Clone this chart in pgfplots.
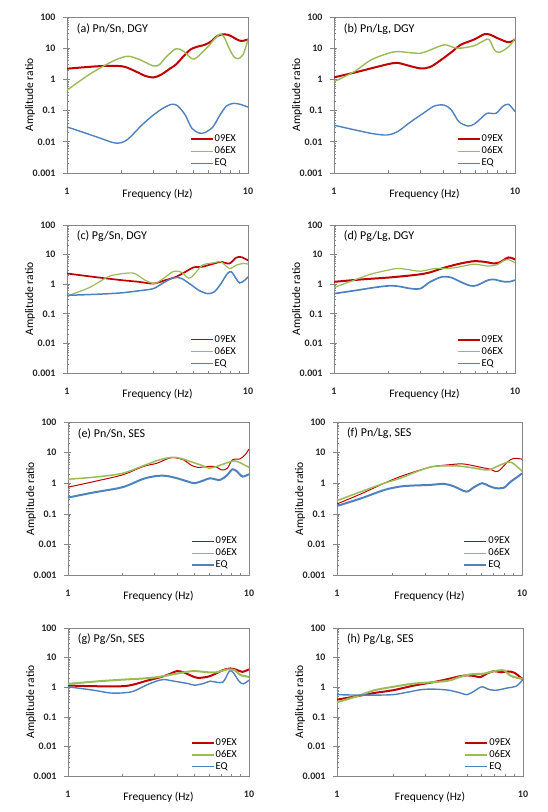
\documentclass[border=0pt]{standalone}
\usepackage{fontspec}
\setmainfont{Carlito}
\usepackage{pgfplots}
\pgfplotsset{compat=1.18}
\definecolor{c09}{RGB}{192,0,0}
\definecolor{c06}{RGB}{155,187,89}
\definecolor{ceq}{RGB}{79,129,189}
\definecolor{axgray}{RGB}{134,134,134}
\pgfplotsset{
  /pgf/number format/assume math mode=true,
  legend image code/.code={\draw[#1] (0pt,0pt) -- (22pt,0pt);},
  xmin=1, xmax=10, ymin=0.001, ymax=100,
  scale only axis, clip mode=individual,
  xtick={1,10}, xticklabels={1,10},
  ytick={0.001,0.01,0.1,1,10,100}, yticklabels={0.001,0.01,0.1,1,10,100},
  xtick pos=bottom, ytick pos=left,
  tick align=inside, major tick length=3pt, minor tick length=2.5pt,
  extra y ticks={0.001,0.01,0.1,1,10,100}, extra y tick labels={},
  extra y tick style={tick align=outside, major tick length=4pt},
  axis line style={axgray}, tick style={axgray, line width=0.6pt},
  ticklabel style={font=\fontsize{10}{12}\selectfont\bfseries, text=black!85},
  xticklabel style={yshift=-11pt},
  yticklabel style={xshift=-8pt},
  xlabel={Frequency (Hz)}, ylabel={Amplitude ratio},
  every axis x label/.style={at={(axis description cs:0.5,0)}, anchor=center, yshift=-21pt, font=\fontsize{11.5}{13}\selectfont},
  every axis y label/.style={at={(axis description cs:0,0.5)}, xshift=-37pt, anchor=center, rotate=90, font=\fontsize{11.5}{13}\selectfont},
  legend style={at={(axis description cs:0.94,0.025)}, anchor=south east, draw=none, fill=none,
     font=\fontsize{10.5}{12}\selectfont, inner sep=0pt, row sep=1pt,
     nodes={inner sep=1pt, text height=7pt, text depth=2pt}},
  legend cell align=left,
}
\newcommand{\plab}[1]{\node[anchor=west, font=\fontsize{12}{14}\selectfont] at (rel axis cs:0.035,0.925) {#1};}
\begin{document}
\begin{tikzpicture}
\path[use as bounding box] (0,0) rectangle (548pt,812pt);

% (a)
\begin{loglogaxis}[anchor=south west, at={(67pt,639pt)}, width=181pt, height=156pt]
\addplot[c09, line width=2pt, smooth] coordinates {(1,2.2)(1.3,2.5)(1.6,2.7)(1.9,2.7)(2.1,2.5)(2.4,1.8)(2.7,1.3)(3.0,1.15)(3.3,1.4)(3.7,2.2)(4.0,3.0)(4.4,5.5)(4.8,9)(5.2,11)(5.8,13)(6.3,17)(6.8,25)(7.4,28)(8.0,25)(8.7,19)(9.2,17)(10,19)};
\addplot[c06, line width=1.4pt, smooth] coordinates {(1,0.45)(1.33,1.45)(1.72,3.4)(2,5)(2.2,5.5)(2.5,4.4)(3,2.7)(3.25,3)(3.5,5)(4,9.6)(4.4,8)(4.9,4.6)(5.2,5)(5.9,10)(6.5,19)(7,28)(7.4,22)(7.8,11)(8.3,5.6)(8.8,4.6)(9.4,6.3)(10,19)};
\addplot[ceq, line width=1.4pt, smooth] coordinates {(1,0.03)(1.45,0.0145)(1.8,0.0094)(2,0.0094)(2.2,0.013)(2.6,0.035)(3,0.072)(3.4,0.12)(3.8,0.16)(4.1,0.14)(4.5,0.072)(4.9,0.027)(5.4,0.019)(5.8,0.02)(6.4,0.03)(7,0.072)(7.6,0.14)(8.3,0.17)(9,0.16)(10,0.13)};
\legend{09EX,06EX,EQ}
\plab{(a) Pn/Sn, DGY}
\end{loglogaxis}

% (b)
\begin{loglogaxis}[anchor=south west, at={(334pt,639pt)}, width=181pt, height=156pt]
\addplot[c09, line width=2pt, smooth] coordinates {(1,1.16)(1.29,1.64)(1.6,2.25)(2,3.1)(2.24,3.4)(2.5,2.9)(3,2.25)(3.4,2.5)(3.9,4.2)(4.5,7.8)(5,12.8)(5.95,19)(6.76,28)(7.3,27)(8,21)(9.2,15.5)(10,19)};
\addplot[c06, line width=1.4pt, smooth] coordinates {(1,0.84)(1.29,1.76)(1.6,4.2)(2,6.9)(2.24,7.8)(2.5,7.4)(3,6.9)(3.4,8.8)(4.06,12.8)(4.6,10.5)(5,10)(5.95,12)(6.76,17.7)(7.2,19)(7.7,8.8)(8.2,7.4)(9.2,11)(10,20)};
\addplot[ceq, line width=1.4pt, smooth] coordinates {(1,0.034)(1.35,0.023)(1.66,0.018)(1.97,0.0165)(2.24,0.021)(2.66,0.044)(3.15,0.086)(3.58,0.14)(4.06,0.15)(4.45,0.105)(4.9,0.044)(5.5,0.032)(5.95,0.037)(6.5,0.057)(7,0.082)(7.85,0.082)(8.55,0.135)(9.2,0.16)(10,0.093)};
\legend{09EX,06EX,EQ}
\plab{(b) Pn/Lg, DGY}
\end{loglogaxis}

% (c)
\begin{loglogaxis}[anchor=south west, at={(67pt,439pt)}, width=181pt, height=148pt]
\addplot[c09, line width=1.7pt, smooth] coordinates {(1,2.3)(1.5,1.68)(2,1.37)(2.5,1.2)(3,1.05)(3.5,1.37)(4,1.77)(4.6,2.8)(5,3.7)(5.6,3.9)(6.5,5)(7.1,5.7)(7.9,5)(8.6,7.9)(9.2,8.2)(10,6.4)};
\addplot[c06, line width=1.2pt, smooth] coordinates {(1,0.4)(1.33,0.77)(1.72,1.87)(2.2,2.4)(2.4,2.2)(2.7,1.37)(3.05,1.05)(3.4,1.55)(3.9,2.75)(4.3,2.5)(4.7,1.6)(5,2.0)(5.6,4.4)(6.5,5.3)(7.1,5.7)(7.9,3.4)(8.6,4.4)(9.4,5)(10,4.8)};
\addplot[ceq, line width=1.5pt, smooth] coordinates {(1,0.42)(1.5,0.46)(2,0.51)(2.5,0.6)(3,0.71)(3.4,1.1)(3.9,1.68)(4.3,1.55)(4.8,1.0)(5.4,0.6)(6,0.48)(6.5,0.55)(7,0.93)(7.7,2.3)(8.1,2.6)(8.6,1.55)(9,1.1)(9.6,1.37)(10,1.77)};
\legend{09EX,06EX,EQ}
\plab{(c) Pg/Sn, DGY}
\end{loglogaxis}

% (d)
\begin{loglogaxis}[anchor=south west, at={(334pt,439pt)}, width=181pt, height=148pt]
\addplot[c09, line width=2pt, smooth] coordinates {(1,1.2)(1.4,1.44)(2,1.68)(2.7,2.0)(3.3,2.4)(4.06,3.6)(5,5)(5.95,6)(6.76,5.7)(7.7,5)(8.2,5.4)(9.2,8)(10,6.8)};
\addplot[c06, line width=1.2pt, smooth] coordinates {(1,0.77)(1.29,1.37)(1.6,2.2)(2,3.0)(2.24,3.4)(2.5,3.2)(3,2.75)(3.6,3.4)(4.3,3.4)(5,3.9)(5.95,4.75)(7.1,4.1)(8,4.6)(8.7,6.5)(9.2,6.8)(10,5.3)};
\addplot[ceq, line width=1.7pt, smooth] coordinates {(1,0.48)(1.35,0.63)(1.66,0.77)(2,0.88)(2.24,0.86)(2.66,0.71)(3,0.71)(3.4,1.2)(3.95,1.77)(4.45,1.68)(5,1.2)(5.7,0.88)(6.2,0.93)(7.1,1.37)(7.7,1.44)(8.4,1.26)(9.2,1.2)(10,1.37)};
\legend{09EX,06EX,EQ}
\plab{(d) Pg/Lg, DGY}
\end{loglogaxis}

% (e)
\begin{loglogaxis}[anchor=south west, at={(68pt,237pt)}, width=181pt, height=153pt]
\addplot[c09, line width=1pt, smooth] coordinates {(1,0.74)(1.39,1.13)(2,1.87)(2.6,3.5)(3.1,4.5)(3.5,6.1)(3.8,6.9)(4.35,5.8)(4.75,4.0)(5.2,3.3)(5.9,3.5)(6.5,3.5)(7.1,2.7)(7.6,3.1)(8.1,5.8)(8.9,6.2)(9.5,8.4)(10,13)};
\addplot[c06, line width=1.5pt, smooth] coordinates {(1,1.35)(1.39,1.57)(2,2.1)(2.6,3.7)(3.2,5.8)(3.75,7)(4.15,6.6)(4.75,5.1)(5.5,3.8)(6,3.1)(6.6,3.5)(7.6,4.7)(8.3,5.35)(8.9,4.7)(10,3.3)};
\addplot[ceq, line width=2pt, smooth] coordinates {(1,0.34)(1.39,0.5)(2,0.74)(2.6,1.38)(3.1,1.73)(3.5,1.73)(4,1.45)(4.6,1.13)(5,1.0)(5.6,1.22)(6.1,1.45)(6.9,1.28)(7.6,1.87)(8.1,2.86)(8.6,2.4)(9.2,1.65)(10,1.97)};
\legend{09EX,06EX,EQ}
\plab{(e) Pn/Sn, SES}
\end{loglogaxis}

% (f)
\begin{loglogaxis}[anchor=south west, at={(337pt,237pt)}, width=185pt, height=153pt]
\addplot[c09, line width=1pt, smooth] coordinates {(1,0.21)(1.35,0.45)(1.8,1.0)(2.2,1.65)(2.7,2.5)(3.3,3.5)(3.95,3.96)(4.7,4.3)(5.2,3.96)(6,3.3)(6.75,2.86)(7.2,2.4)(7.6,2.7)(8.3,4.8)(9,6.5)(10,6.1)};
\addplot[c06, line width=1.5pt, smooth] coordinates {(1,0.27)(1.35,0.53)(1.8,1.0)(2.2,1.45)(2.7,2.4)(3.3,3.5)(4.3,3.7)(5.2,3.3)(6.5,2.7)(7.3,3.5)(8.3,4.8)(8.8,4.7)(9.4,3.5)(10,2.5)};
\addplot[ceq, line width=2pt, smooth] coordinates {(1,0.18)(1.35,0.32)(1.8,0.6)(2.2,0.78)(2.6,0.84)(3.2,0.88)(3.8,0.95)(4.3,0.78)(5,0.53)(5.5,0.74)(6.1,1.0)(6.6,0.82)(7.2,0.69)(8,0.72)(8.7,1.13)(9.4,1.57)(10,2.1)};
\legend{09EX,06EX,EQ}
\plab{(f) Pn/Lg, SES}
\end{loglogaxis}

% (g)
\begin{loglogaxis}[anchor=south west, at={(68pt,36pt)}, width=181pt, height=148pt]
\addplot[c09, line width=2pt, smooth] coordinates {(1,1.14)(1.39,1.08)(2,1.08)(2.3,1.23)(2.75,1.68)(3.3,2.24)(3.7,2.9)(4,3.5)(4.35,3.2)(4.75,2.5)(5.2,2.07)(5.9,2.24)(6.4,2.7)(7.2,3.8)(7.9,4.3)(8.6,3.8)(9.2,3.3)(10,4.0)};
\addplot[c06, line width=2pt, smooth] coordinates {(1,1.3)(1.5,1.6)(2,1.8)(2.6,1.97)(3.2,2.24)(4,2.9)(4.9,3.5)(5.9,3.2)(6.6,3.2)(7.6,4.0)(8.3,3.8)(9,2.56)(10,2.24)};
\addplot[ceq, line width=1.4pt, smooth] coordinates {(1,1.03)(1.39,0.79)(1.7,0.64)(2,0.64)(2.3,0.73)(2.75,1.23)(3.2,1.73)(3.4,1.82)(3.85,1.6)(4.6,1.33)(5,1.17)(5.6,1.33)(6.1,1.6)(6.6,1.48)(7.2,1.5)(7.8,3.5)(8.2,3.06)(8.8,1.6)(9.3,1.3)(10,1.73)};
\legend{09EX,06EX,EQ}
\plab{(g) Pg/Sn, SES}
\end{loglogaxis}

% (h)
\begin{loglogaxis}[anchor=south west, at={(337pt,36pt)}, width=186pt, height=148pt]
\addplot[c09, line width=2pt, smooth] coordinates {(1,0.38)(1.29,0.5)(1.59,0.64)(2,0.79)(2.6,1.14)(3.33,1.5)(4,1.92)(4.6,2.36)(5,2.5)(5.45,2.4)(5.9,2.2)(6.4,2.9)(7,3.5)(7.6,3.2)(8.3,3.4)(9,3.06)(10,1.82)};
\addplot[c06, line width=2pt, smooth] coordinates {(1,0.31)(1.29,0.5)(1.59,0.79)(2,1.03)(2.6,1.33)(3.33,1.48)(4,1.68)(4.6,2.24)(5.2,2.7)(6.2,2.9)(7,3.5)(7.9,3.7)(8.5,2.5)(9.3,2.07)(10,1.92)};
\addplot[ceq, line width=1.4pt, smooth] coordinates {(1,0.56)(1.29,0.54)(1.59,0.54)(2,0.56)(2.4,0.68)(2.85,0.83)(3.33,0.86)(4,0.79)(4.6,0.64)(5,0.56)(5.45,0.73)(6,1.03)(6.6,0.83)(7.2,0.79)(8.3,0.95)(9.2,1.08)(10,1.82)};
\legend{09EX,06EX,EQ}
\plab{(h) Pg/Lg, SES}
\end{loglogaxis}
\end{tikzpicture}
\end{document}
